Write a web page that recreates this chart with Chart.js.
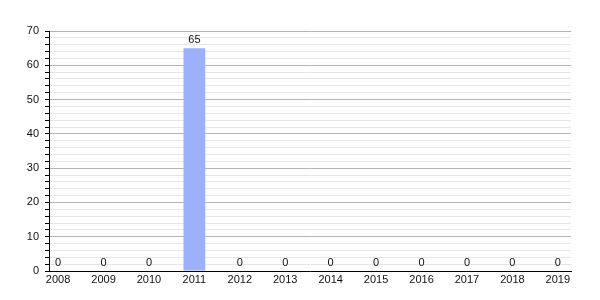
<!DOCTYPE html>
<html>
<head>
<meta charset="utf-8">
<script src="https://cdn.jsdelivr.net/npm/chart.js@4/dist/chart.umd.min.js"></script>
<style>
  html, body { margin: 0; padding: 0; background: #fff; }
  #wrap { width: 600px; height: 300px; }
</style>
</head>
<body>
<div id="wrap"><canvas id="grafico"></canvas></div>
<script>
// datos del gráfico
const anios = [2008, 2009, 2010, 2011, 2012, 2013, 2014, 2015, 2016, 2017, 2018, 2019];
const valores = [0, 0, 0, 65, 0, 0, 0, 0, 0, 0, 0, 0];
const yMin = 0;
const yMax = 70;

const fuente = { family: "'Liberation Sans', Arial, sans-serif", size: 11 };

// escribe el valor encima de cada barra
const etiquetasBarras = {
    id: 'etiquetasBarras',
    afterDatasetsDraw(chart) {
        const ctx = chart.ctx;
        const meta = chart.getDatasetMeta(0);
        ctx.save();
        ctx.font = "11px 'Liberation Sans', Arial, sans-serif";
        ctx.fillStyle = '#111';
        ctx.textAlign = 'center';
        ctx.textBaseline = 'bottom';
        meta.data.forEach((bar, i) => {
            ctx.fillText(String(valores[i]), bar.x, bar.y - 3);
        });
        ctx.restore();
    }
};

new Chart(document.getElementById('grafico'), {
    type: 'bar',
    data: {
        datasets: [{
            data: anios.map((a, i) => ({ x: a, y: valores[i] })),
            backgroundColor: '#9cb0fc',
            barPercentage: 0.48,
            categoryPercentage: 1
        }]
    },
    options: {
        responsive: true,
        maintainAspectRatio: false,
        animation: false,
        layout: { padding: { left: 0, right: 29, top: 31, bottom: 0 } },
        plugins: { legend: { display: false }, tooltip: { enabled: false } },
        scales: {
            x: {
                type: 'linear',
                offset: false,
                min: 2007.8,
                max: 2019.29,
                afterFit(scale) { scale.height = 29; },
                afterBuildTicks(scale) {
                    scale.ticks = anios.map(a => ({ value: a }));
                },
                ticks: {
                    color: '#111',
                    font: fuente,
                    padding: 2,
                    autoSkip: false,
                    maxRotation: 0,
                    callback: v => String(v)
                },
                grid: { display: true, drawOnChartArea: false, drawTicks: false },
                border: { display: true, color: '#000', width: 1 }
            },
            y: {
                min: yMin,
                max: yMax,
                afterFit(scale) { scale.width = 49; },
                ticks: {
                    stepSize: 2,
                    color: '#111',
                    font: fuente,
                    padding: 6,
                    autoSkip: false,
                    callback: v => (v % 10 === 0 ? String(v) : '')
                },
                grid: {
                    color: c => (c.tick && c.tick.value % 10 === 0 ? '#b4b4b4' : '#e6e6e6'),
                    tickColor: '#000',
                    tickLength: 4
                },
                border: { display: true, color: '#000', width: 1 }
            }
        }
    },
    plugins: [etiquetasBarras]
});
</script>
</body>
</html>
